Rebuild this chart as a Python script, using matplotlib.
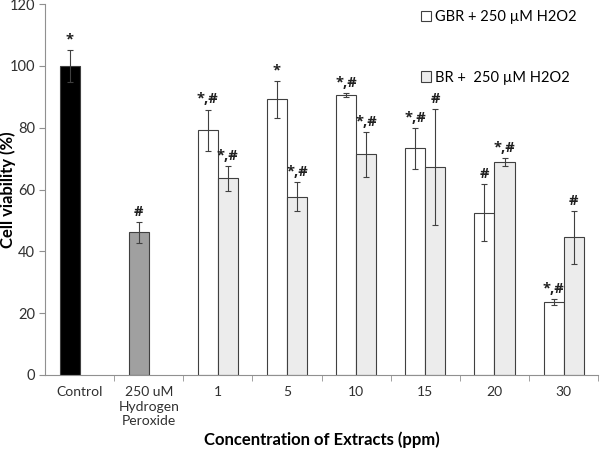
import numpy as np
import matplotlib
matplotlib.use("Agg")
import matplotlib.pyplot as plt

plt.rcParams['font.family'] = ['Lato', 'DejaVu Sans']

categories = ['Control', '250 uM\nHydrogen\nPeroxide', '1', '5', '10', '15', '20', '30']
# single bars: control and H2O2 only
single_vals = [100, 46.2]
single_err = [5.3, 3.4]
single_marks = ['*', '#']
# extract groups (1..30 ppm)
gbr_vals = [79.2, 89.2, 90.6, 73.4, 52.5, 23.5]
gbr_err = [6.7, 6.0, 0.5, 6.6, 9.3, 1.0]
gbr_marks = ['*,#', '*', '*,#', '*,#', '#', '*,#']
br_vals = [63.6, 57.7, 71.4, 67.2, 68.8, 44.6]
br_err = [3.9, 4.6, 7.2, 18.8, 1.3, 8.6]
br_marks = ['*,#', '*,#', '*,#', '#', '*,#', '#']

fig = plt.figure(figsize=(6, 4.5), dpi=100)
ax = fig.add_axes([0.075, 0.1667, 0.922, 0.824])

w = 0.29
edge = '#404040'
ekw = dict(ecolor='#404040', elinewidth=0.8, capsize=2, capthick=0.8)

x_single = np.arange(2) - w / 2
ax.bar(x_single, single_vals, w, yerr=single_err, color=['black', '#a0a0a0'],
       edgecolor=edge, linewidth=0.8, error_kw=ekw)

x_grp = np.arange(2, 8)
ax.bar(x_grp - w / 2, gbr_vals, w, yerr=gbr_err, color='white', edgecolor=edge,
       linewidth=0.8, error_kw=ekw, label='GBR + 250 µM H2O2')
ax.bar(x_grp + w / 2, br_vals, w, yerr=br_err, color='#ececec', edgecolor=edge,
       linewidth=0.8, error_kw=ekw, label='BR +  250 µM H2O2')

def mark(xs, vals, errs, labels):
    for x, v, e, t in zip(xs, vals, errs, labels):
        ax.text(x, v + e + 1.0, t, ha='center', va='bottom', fontsize=10.5,
                fontweight='bold', color='#202020', family='Open Sans')

mark(x_single, single_vals, single_err, single_marks)
mark(x_grp - w / 2, gbr_vals, gbr_err, gbr_marks)
mark(x_grp + w / 2, br_vals, br_err, br_marks)

ax.set_xlim(-0.5, 7.5)
ax.set_ylim(0, 120)
ax.set_yticks(range(0, 121, 20))
ax.set_xticks(range(8))
ax.set_xticklabels(categories, fontsize=10, color='#303030', linespacing=1.25)
ax.set_xticks(np.arange(0.5, 7.6, 1), minor=True)
ax.tick_params(axis='x', which='major', length=0, pad=8)
ax.tick_params(axis='x', which='minor', length=4, color='#909090')
ax.tick_params(axis='y', labelsize=10.5, colors='#303030', length=4, pad=3)
ax.tick_params(axis='y', color='#909090')
for s in ['top', 'right']:
    ax.spines[s].set_visible(False)
for s in ['left', 'bottom']:
    ax.spines[s].set_color('#909090')

ax.set_ylabel('Cell viability (%)', fontsize=12, fontweight='bold')
ax.set_xlabel('Concentration of Extracts (ppm)', fontsize=12, fontweight='bold')
ax.yaxis.set_label_coords(-0.052, 0.5)
ax.xaxis.set_label_coords(0.5, -0.152)

ax.legend(loc='upper right', bbox_to_anchor=(0.985, 1.02), frameon=False, fontsize=10.5,
          handlelength=0.7, handleheight=0.7, handletextpad=0.3, labelspacing=3.2)

fig.savefig('out.png', dpi=100)
